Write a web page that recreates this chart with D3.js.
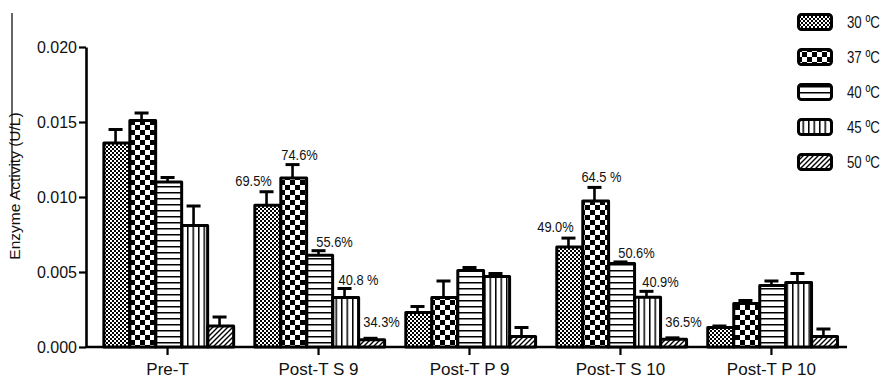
<!DOCTYPE html>
<html>
<head>
<meta charset="utf-8">
<script src="https://cdn.jsdelivr.net/npm/d3@7"></script>
<style>
  html, body { margin: 0; padding: 0; background: #fff; }
  svg { display: block; }
  text { fill: #111; font-family: "Liberation Sans", Arial, sans-serif; }
</style>
</head>
<body>
<svg id="chart" width="890" height="380"></svg>
<script>
// Groups along the x axis
const categories = ["Pre-T", "Post-T S 9", "Post-T P 9", "Post-T S 10", "Post-T P 10"];
// Incubation temperatures (one bar per group each)
const temperatures = ["30 ºC", "37 ºC", "40 ºC", "45 ºC", "50 ºC"];

// Mean enzyme activity (U/L) per temperature, one value per group
const act30 = [0.0136, 0.00945, 0.0023, 0.00666, 0.0013];
const act37 = [0.0151, 0.01126, 0.0033, 0.00974, 0.0029];
const act40 = [0.0110, 0.00612, 0.0051, 0.00557, 0.0041];
const act45 = [0.0081, 0.0033, 0.0047, 0.00331, 0.0043];
const act50 = [0.0014, 0.00048, 0.0007, 0.00051, 0.0007];

// Upper error (SEM) per temperature, one value per group
const err30 = [0.0009, 0.0009, 0.0004, 0.0006, 0.0001];
const err37 = [0.0005, 0.0009, 0.0011, 0.0009, 0.0002];
const err40 = [0.0003, 0.0003, 0.0002, 0.0001, 0.0003];
const err45 = [0.0013, 0.0006, 0.0002, 0.0004, 0.0006];
const err50 = [0.0006, 0.0001, 0.0006, 0.0001, 0.0005];

// Residual activity relative to Pre-T, shown above the S 9 and S 10 groups
const pctS9  = ["69.5%", "74.6%", "55.6%", "40.8 %", "34.3%"];
const pctS10 = ["49.0%", "64.5 %", "50.6%", "40.9%", "36.5%"];

// Y axis ticks
const yTicks = [0, 0.005, 0.010, 0.015, 0.020];

const actBySeries = [act30, act37, act40, act45, act50];
const errBySeries = [err30, err37, err40, err45, err50];
const pctByGroup = { "Post-T S 9": pctS9, "Post-T S 10": pctS10 };

const svg = d3.select("#chart");
const defs = svg.append("defs");

// Fill patterns, one per temperature
function pat(id, w, h, draw) {
  const p = defs.append("pattern").attr("id", id)
    .attr("patternUnits", "userSpaceOnUse").attr("width", w).attr("height", h);
  p.append("rect").attr("width", w).attr("height", h).attr("fill", "#fff");
  draw(p);
}
pat("p0", 4, 4, p => {
  p.append("rect").attr("x", 0).attr("y", 0).attr("width", 2).attr("height", 2).attr("fill", "#000");
  p.append("rect").attr("x", 2).attr("y", 2).attr("width", 2).attr("height", 2).attr("fill", "#000");
});
pat("p1", 10, 10, p => {
  p.append("rect").attr("x", 0).attr("y", 0).attr("width", 5).attr("height", 5).attr("fill", "#000");
  p.append("rect").attr("x", 5).attr("y", 5).attr("width", 5).attr("height", 5).attr("fill", "#000");
});
pat("p2", 6, 6, p => {
  p.append("rect").attr("x", 0).attr("y", 0).attr("width", 6).attr("height", 1.5).attr("fill", "#000");
});
pat("p3", 5.5, 6, p => {
  p.append("rect").attr("x", 0).attr("y", 0).attr("width", 1.5).attr("height", 6).attr("fill", "#000");
});
pat("p4", 5, 5, p => {
  p.append("path").attr("d", "M-1,6 L6,-1 M-1,1 L1,-1 M4,6 L6,4")
    .attr("stroke", "#000").attr("stroke-width", 1.4);
});

// Scales
const x0 = d3.scaleBand().domain(categories).range([92, 847]).paddingInner(0.139).paddingOuter(0.07);
const x1 = d3.scaleBand().domain(d3.range(temperatures.length)).range([0, x0.bandwidth()]);
const y = d3.scaleLinear().domain([0, 0.020]).range([347, 47]);

// Axes
const yAxis = svg.append("g").attr("transform", "translate(86,0)")
  .call(d3.axisLeft(y).tickValues(yTicks).tickFormat(d3.format(".3f")).tickSize(7).tickSizeOuter(0));
yAxis.select(".domain").attr("stroke", "#000").attr("stroke-width", 2.6);
yAxis.selectAll(".tick line").attr("stroke", "#000").attr("stroke-width", 2.2);
yAxis.selectAll(".tick text").attr("x", -9).attr("dy", "0.34em")
  .style("font-size", "16px").attr("fill", "#111");

const xAxis = svg.append("g").attr("transform", "translate(0,347)")
  .call(d3.axisBottom(x0).tickSize(8).tickSizeOuter(0));
xAxis.select(".domain").attr("stroke", "#000").attr("stroke-width", 2.6)
  .attr("d", "M86,0H847");
xAxis.selectAll(".tick line").attr("stroke", "#000").attr("stroke-width", 2.2);
xAxis.selectAll(".tick text").attr("y", 13).attr("dy", "0.9em")
  .style("font-size", "17px").attr("fill", "#111");

// Bars
const rows = [];
categories.forEach((c, gi) => {
  temperatures.forEach((t, si) => {
    rows.push({ c, gi, si, v: actBySeries[si][gi], e: errBySeries[si][gi] });
  });
});

const plot = svg.append("g");
const bw = x1.bandwidth();

// Error bars (upper only), drawn behind the bars
plot.selectAll("g.err").data(rows).join("g").attr("class", "err").each(function (d) {
  const cx = x0(d.c) + x1(d.si) + bw / 2;
  const g = d3.select(this);
  g.append("line").attr("x1", cx).attr("x2", cx).attr("y1", y(d.v)).attr("y2", y(d.v + d.e))
    .attr("stroke", "#000").attr("stroke-width", 2.6);
  g.append("line").attr("x1", cx - 7).attr("x2", cx + 7).attr("y1", y(d.v + d.e)).attr("y2", y(d.v + d.e))
    .attr("stroke", "#000").attr("stroke-width", 3);
});

plot.selectAll("rect.bar").data(rows).join("rect").attr("class", "bar")
  .attr("x", d => x0(d.c) + x1(d.si) + 1.3)
  .attr("width", bw - 0.2)
  .attr("y", d => y(d.v))
  .attr("height", d => y(0) - y(d.v))
  .attr("fill", d => `url(#p${d.si})`)
  .attr("stroke", "#000").attr("stroke-width", 3).attr("stroke-linejoin", "round");

// Percentage labels above the S 9 and S 10 groups
const labDx = [-13, 7, 16, 14, 11];
const labGap = [6, 5, 4, 4, 11];
plot.selectAll("g.pct").data(rows.filter(d => pctByGroup[d.c])).join("g").attr("class", "pct")
  .attr("transform", d => `translate(${x0(d.c) + x1(d.si) + bw / 2 + labDx[d.si]},${y(d.v + d.e) - labGap[d.si]}) scale(0.92,1)`)
  .append("text")
  .attr("text-anchor", "middle")
  .style("font-size", "14px")
  .text(d => pctByGroup[d.c][d.si]);

// Y axis title
svg.append("text")
  .attr("transform", "translate(20,186) rotate(-90)")
  .attr("text-anchor", "middle")
  .style("font-size", "15.5px")
  .text("Enzyme Activity (U/L)");

// Thin frame line at the left edge
svg.append("line").attr("x1", 12).attr("x2", 12).attr("y1", 13).attr("y2", 196)
  .attr("stroke", "#000").attr("stroke-width", 1.2);

// Legend
const leg = svg.append("g").attr("transform", "translate(797,0)");
const legRow = leg.selectAll("g").data(temperatures).join("g")
  .attr("transform", (d, i) => `translate(0,${22 + i * 35})`);
legRow.append("rect").attr("x", 1.5).attr("y", -7.5).attr("width", 33).attr("height", 15).attr("rx", 3)
  .attr("fill", (d, i) => `url(#p${i})`).attr("stroke", "#000").attr("stroke-width", 3);
legRow.append("g").attr("transform", "translate(50,0) scale(0.78,1)")
  .append("text").attr("dy", "0.36em")
  .style("font-size", "17px").text(d => d);
</script>
</body>
</html>
